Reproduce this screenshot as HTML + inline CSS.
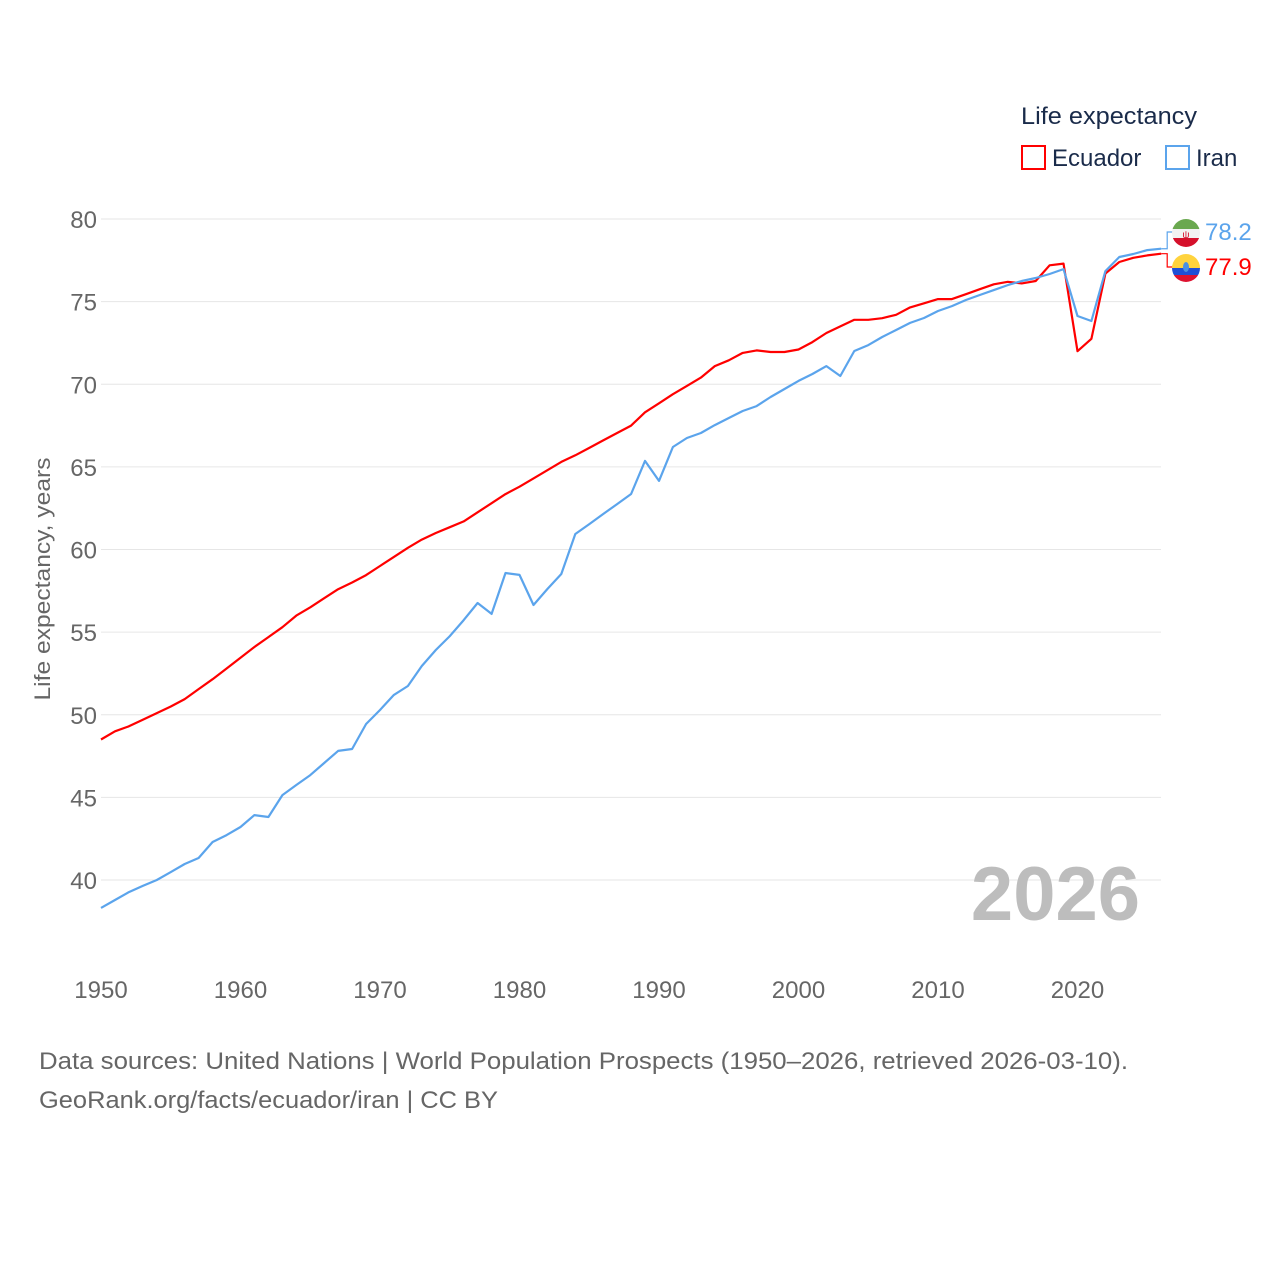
<!DOCTYPE html>
<html><head><meta charset="utf-8"><style>
body{margin:0;background:#fff;font-family:"Liberation Sans",sans-serif;}
svg text{font-family:"Liberation Sans",sans-serif;}
</style></head><body>
<svg id="chart" width="1280" height="1280" xmlns="http://www.w3.org/2000/svg">
<g id="grid"></g>
<g id="yticks"></g>
<g id="xticks"></g>
<text transform="translate(50,579) rotate(-90)" text-anchor="middle" font-size="22" fill="#666" textLength="243" lengthAdjust="spacingAndGlyphs">Life expectancy, years</text>
<text x="1140" y="920" text-anchor="end" font-size="76" font-weight="bold" fill="#bdbdbd">2026</text>
<g>
<text x="1021" y="124" font-size="24" fill="#1a2b4a" textLength="176" lengthAdjust="spacingAndGlyphs">Life expectancy</text>
<g><rect x="1022" y="146" width="23" height="23" fill="none" stroke="#ff0000" stroke-width="2"/><text x="1052" y="166" font-size="24" fill="#1a2b4a">Ecuador</text></g>
<g><rect x="1166" y="146" width="23" height="23" fill="none" stroke="#5ba4ec" stroke-width="2"/><text x="1196" y="166" font-size="24" fill="#1a2b4a">Iran</text></g>
</g>
<g id="series"></g>
<g id="labels"></g>
<text x="39" y="1069" font-size="24" fill="#666" textLength="1089" lengthAdjust="spacingAndGlyphs">Data sources: United Nations | World Population Prospects (1950–2026, retrieved 2026-03-10).</text>
<text x="39" y="1108" font-size="24" fill="#666" textLength="459" lengthAdjust="spacingAndGlyphs">GeoRank.org/facts/ecuador/iran | CC BY</text>
</svg>
<script>
const years=[];for(let y=1950;y<=2026;y++)years.push(y);
const ecuador=[48.5,49.0,49.3,49.7,50.1,50.5,50.95,51.55,52.15,52.8,53.45,54.1,54.7,55.3,56.0,56.5,57.05,57.6,58.0,58.45,59.0,59.55,60.1,60.6,61.0,61.35,61.7,62.25,62.8,63.35,63.8,64.3,64.8,65.3,65.7,66.15,66.6,67.05,67.5,68.3,68.85,69.4,69.9,70.4,71.1,71.45,71.9,72.05,71.95,71.95,72.1,72.55,73.1,73.5,73.9,73.9,74.0,74.2,74.65,74.9,75.15,75.15,75.45,75.75,76.05,76.2,76.1,76.25,77.2,77.3,72.0,72.75,76.7,77.4,77.65,77.8,77.9];
const iran=[38.31,38.79,39.27,39.64,40.0,40.48,40.97,41.33,42.3,42.72,43.21,43.93,43.81,45.14,45.75,46.35,47.08,47.81,47.93,49.44,50.29,51.2,51.74,52.95,53.92,54.76,55.73,56.76,56.1,58.58,58.46,56.64,57.61,58.52,60.94,61.54,62.15,62.75,63.36,65.36,64.15,66.2,66.75,67.05,67.53,67.96,68.38,68.68,69.23,69.71,70.2,70.62,71.1,70.5,72.01,72.37,72.86,73.28,73.71,74.01,74.43,74.73,75.1,75.4,75.7,76.0,76.25,76.43,76.67,76.97,74.13,73.83,76.85,77.7,77.88,78.12,78.2];
const yTicks=[40,45,50,55,60,65,70,75,80];
const xTicks=[1950,1960,1970,1980,1990,2000,2010,2020];
const NS="http://www.w3.org/2000/svg";
function X(yr){return 101+(yr-1950)*13.95;}
function Y(v){return 880-(v-40)*16.525;}
function mk(tag,attrs,parent){const e=document.createElementNS(NS,tag);for(const k in attrs)e.setAttribute(k,attrs[k]);parent.appendChild(e);return e;}
const grid=document.getElementById('grid'),yt=document.getElementById('yticks'),xt=document.getElementById('xticks');
yTicks.forEach(v=>{
 const l=mk('line',{x1:101,x2:1161,y1:Y(v),y2:Y(v),stroke:'#e6e6e6','stroke-width':1},grid);
 
 
 const t=mk('text',{x:97,y:Y(v)+9,'text-anchor':'end','font-size':24,fill:'#666'},yt);t.textContent=v;
 
 
});
xTicks.forEach(v=>{
 const t=mk('text',{x:X(v),y:998,'text-anchor':'middle','font-size':24,fill:'#666'},xt);t.textContent=v;
 
 
});
const ser=document.getElementById('series');
function line(data,color,name){
 const d=data.map((v,i)=>(i?'L':'M')+X(years[i]).toFixed(1)+','+Y(v).toFixed(1)).join('');
 const p=mk('path',{d:d,fill:'none',stroke:color,'stroke-width':2.2,'stroke-linejoin':'round'},ser);
 
 
}
line(ecuador,'#ff0000','ecuador-line');
line(iran,'#5ba4ec','iran-line');
const lab=document.getElementById('labels');
const lastE=ecuador[ecuador.length-1],lastI=iran[iran.length-1];
const ix=X(2026);
mk('path',{d:`M${ix},${Y(lastI)}h6V232h6`,fill:'none',stroke:'#5ba4ec','stroke-width':1.2},lab);
mk('path',{d:`M${ix},${Y(lastE)}h6V267h6`,fill:'none',stroke:'#ff0000','stroke-width':1.2},lab);
const fi=mk('g',{},lab);


const ci=mk('clipPath',{id:'ci'},fi);mk('circle',{cx:1186,cy:233,r:14},ci);
mk('rect',{x:1172,y:219,width:28,height:10,fill:'#6aa84f','clip-path':'url(#ci)'},fi);
mk('rect',{x:1172,y:229,width:28,height:9,fill:'#f2f2f2','clip-path':'url(#ci)'},fi);
mk('rect',{x:1172,y:238,width:28,height:10,fill:'#d5102b','clip-path':'url(#ci)'},fi);
mk('text',{x:1186,y:238,'text-anchor':'middle','font-size':10,fill:'#d5102b'},fi).textContent='ψ';
const fe=mk('g',{},lab);


const ce=mk('clipPath',{id:'ce'},fe);mk('circle',{cx:1186,cy:268,r:14},ce);
mk('rect',{x:1172,y:254,width:28,height:14,fill:'#ffd33d','clip-path':'url(#ce)'},fe);
mk('rect',{x:1172,y:268,width:28,height:7,fill:'#1f4fd6','clip-path':'url(#ce)'},fe);
mk('rect',{x:1172,y:275,width:28,height:8,fill:'#de1230','clip-path':'url(#ce)'},fe);
mk('ellipse',{cx:1186,cy:267,rx:3,ry:5,fill:'#4a90e2'},fe);
const ti=mk('text',{x:1205,y:240,'font-size':24,fill:'#5ba4ec'},lab);ti.textContent=lastI.toFixed(1);


const te=mk('text',{x:1205,y:275,'font-size':24,fill:'#ff0000'},lab);te.textContent=lastE.toFixed(1);


</script>
</body></html>
